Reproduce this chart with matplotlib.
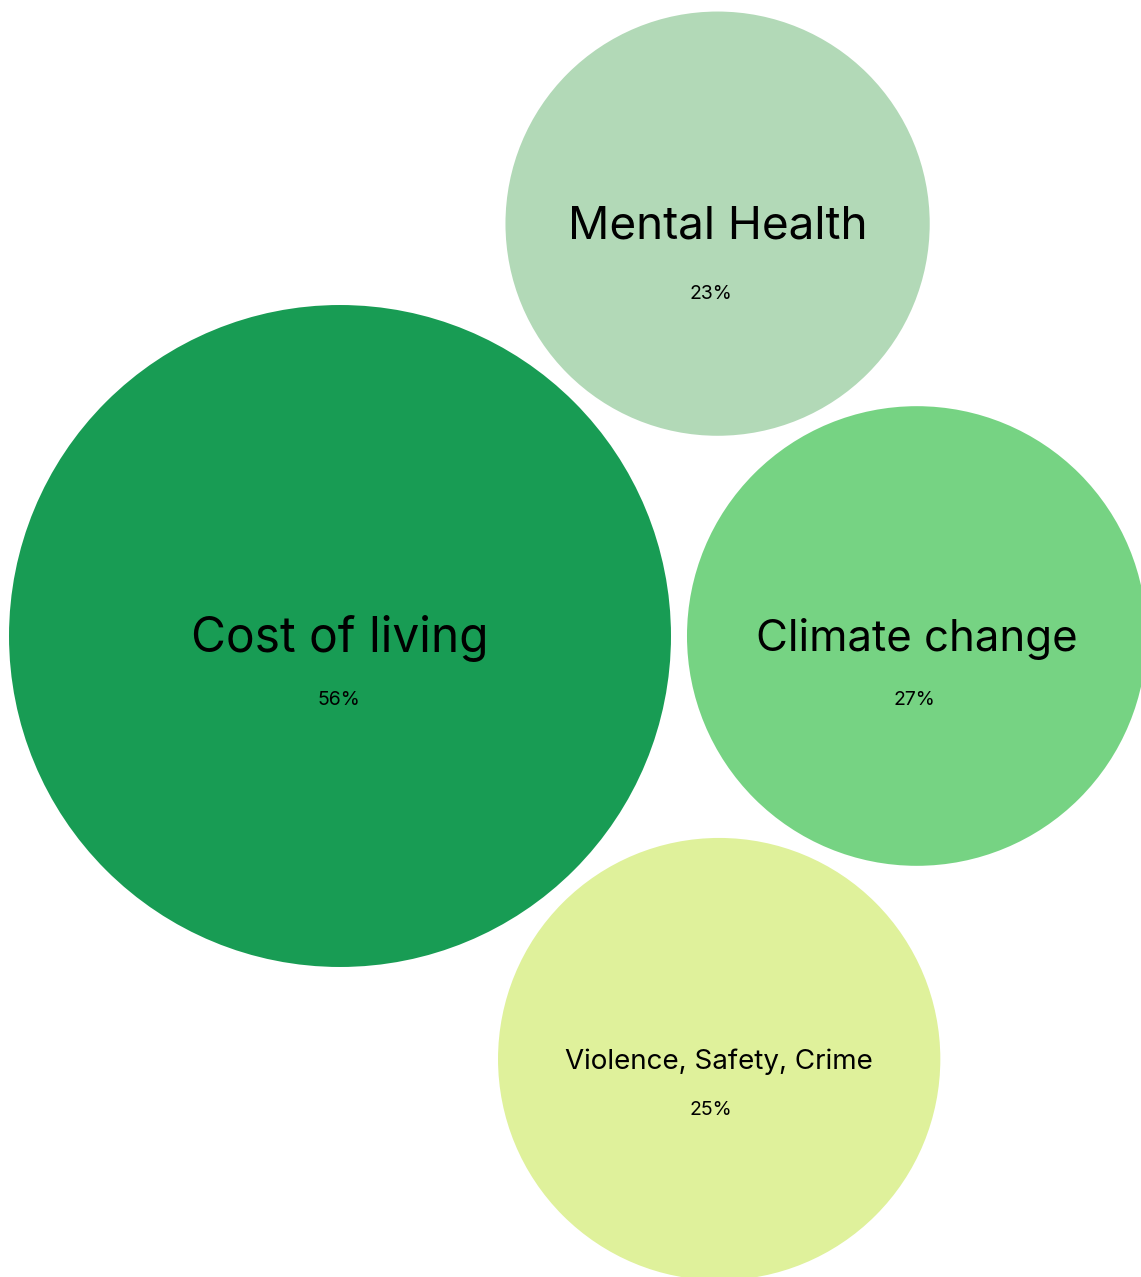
import numpy as np
import matplotlib.pyplot as plt
from matplotlib.patches import Circle

# data
topics = ['Cost of living', 'Climate change', 'Violence, Safety, Crime', 'Mental Health']
shares = [56, 27, 25, 23]
colors = ['#189c54', '#76d383', '#dff19b', '#b2d9b7']

# label styling (font sizes in pt, gap between name and share in px)
name_sizes = [34.5, 31.5, 20, 33]
share_size = 14
share_gaps = [64, 64, 51, 70]
share_shift = [-1, -2, -8, -7]

plt.rcParams['font.family'] = ['Inter', 'DejaVu Sans']

k = 44.23   # px per sqrt(percent)
pad = 16    # gap between bubbles, px
radii = [k * np.sqrt(v) for v in shares]


def tangent(ca, ra, cb, rb, r, side):
    # centre of a circle of radius r sitting next to circles a and b
    ca, cb = np.asarray(ca, float), np.asarray(cb, float)
    da, db = ra + r + pad, rb + r + pad
    d = np.linalg.norm(cb - ca)
    u = (cb - ca) / d
    perp = np.array([-u[1], u[0]])
    x = (da**2 - db**2 + d**2) / (2 * d)
    h = np.sqrt(max(da**2 - x**2, 0))
    return ca + x * u + side * h * perp


# simple pack: biggest in the middle, second to its right, the rest wedged between
centres = [np.array([0.0, 0.0])]
centres.append(np.array([radii[0] + radii[1] + pad, 0.0]))
centres.append(tangent(centres[0], radii[0], centres[1], radii[1], radii[2], -1))
centres.append(tangent(centres[0], radii[0], centres[1], radii[1], radii[3], +1))

fig = plt.figure(figsize=(11.41, 12.77), dpi=100)
ax = fig.add_axes([0, 0, 1, 1])
for i, (name, v, col, c, r) in enumerate(zip(topics, shares, colors, centres, radii)):
    ax.add_patch(Circle(c, r, facecolor=col, edgecolor='none'))
    ax.text(c[0], c[1] - 3, name, ha='center', va='center', fontsize=name_sizes[i], color='black')
    ax.text(c[0] + share_shift[i], c[1] - share_gaps[i], f'{v}%', ha='center', va='center',
            fontsize=share_size, color='black')

ax.set_xlim(-340, 1141 - 340)
ax.set_ylim(636 - 1277, 636)
ax.set_aspect('equal')
ax.axis('off')
fig.savefig('out.png', dpi=100)
